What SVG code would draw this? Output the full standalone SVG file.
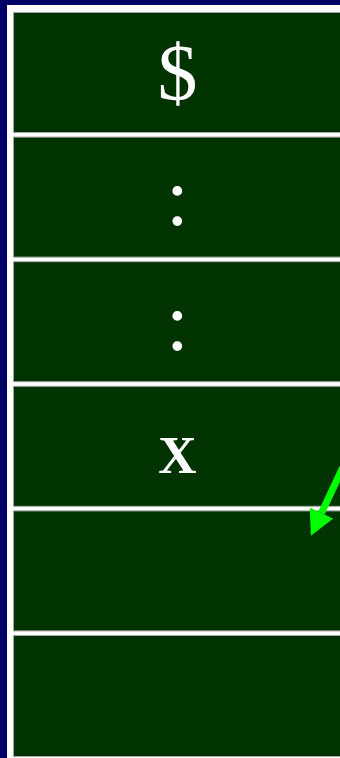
<svg xmlns="http://www.w3.org/2000/svg" width="340" height="758" viewBox="0 0 340 758">
<style>
.cell{fill:#003300;stroke:#a0a8a0;stroke-width:1}
.t{fill:#ffffff;font-family:"Liberation Serif","Times New Roman",serif;text-anchor:middle}
.conn{stroke:#00ff00;stroke-width:7;fill:none}
</style>
<defs>
<marker id="ah" markerUnits="userSpaceOnUse" viewBox="0 0 25 26" refX="0" refY="13" markerWidth="25" markerHeight="26" orient="auto">
<path d="M0,0 L25,13 L0,26 z" fill="#00ff00"/>
</marker>
</defs>
<rect x="0" y="0" width="340" height="758" fill="#000066"/>
<rect x="7" y="5" width="340" height="760" fill="#ffffff"/>
<g id="cell1"><rect class="cell" x="13.5" y="12.5" width="340" height="120"/><text class="t" x="177.5" y="100" font-size="80">$</text></g>
<g id="cell2"><rect class="cell" x="13.5" y="137.1" width="340" height="120"/><text class="t" x="177.5" y="225" font-size="82">:</text></g>
<g id="cell3"><rect class="cell" x="13.5" y="261.7" width="340" height="120"/><text class="t" x="177.5" y="350" font-size="82">:</text></g>
<g id="cell4"><rect class="cell" x="13.5" y="386.3" width="340" height="120"/><text class="t" x="177.5" y="473" font-size="53" font-weight="bold">X</text></g>
<g id="cell5"><rect class="cell" x="13.5" y="510.9" width="340" height="120"/></g>
<g id="cell6"><rect class="cell" x="13.5" y="635.5" width="340" height="121"/></g>
<g id="connectors">
<line class="conn" x1="347" y1="458.7" x2="321.5" y2="513" marker-end="url(#ah)"/>
</g>
</svg>
